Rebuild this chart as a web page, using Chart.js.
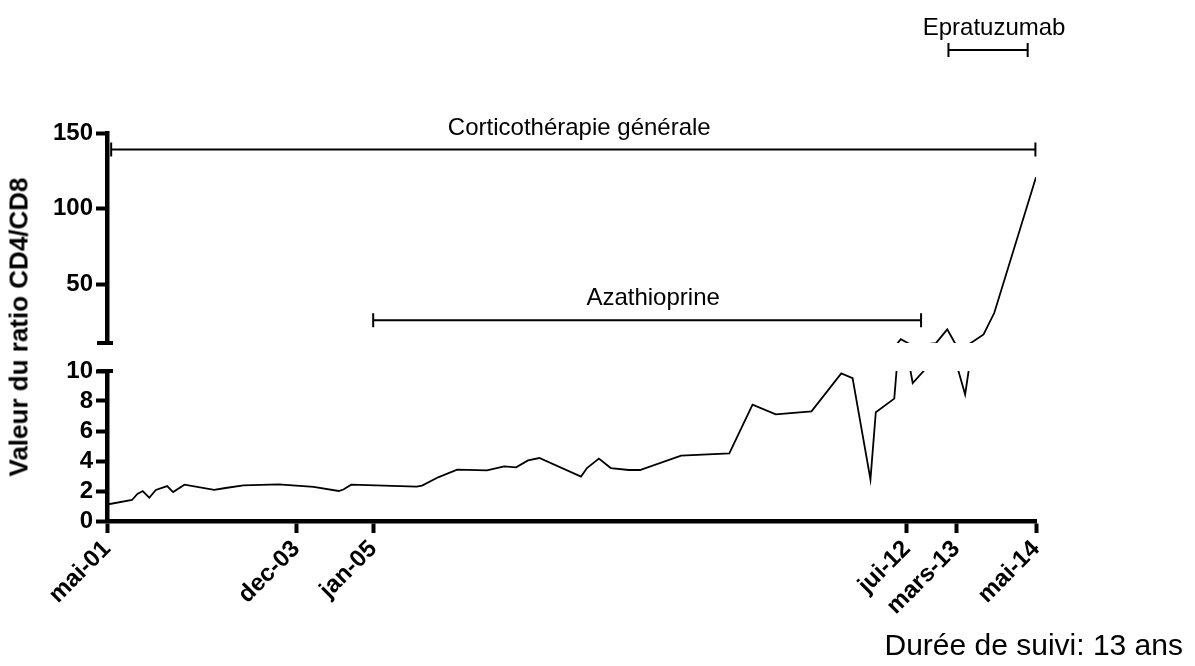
<!DOCTYPE html>
<html>
<head>
<meta charset="utf-8">
<script src="https://cdn.jsdelivr.net/npm/chart.js@4.4.1/dist/chart.umd.min.js"></script>
<style>
  body { margin: 0; background: #fff; width: 1195px; height: 666px; overflow: hidden; position: relative;
         font-family: "Liberation Sans", Arial, sans-serif; }
  canvas { position: absolute; left: 0; }
  #top { top: 0; }
  #bottom { top: 340px; }
  #ytitle { position: absolute; left: 19px; top: 327px; transform: translate(-50%, -50%) rotate(-90deg);
            font-weight: bold; font-size: 26px; white-space: nowrap; }
  #duree { position: absolute; right: 12px; top: 628px; font-size: 30px; white-space: nowrap; }
</style>
</head>
<body>
<canvas id="top" width="1195" height="365" style="width:1195px;height:365px"></canvas>
<canvas id="bottom" width="1195" height="326" style="width:1195px;height:326px"></canvas>
<div id="ytitle">Valeur du ratio CD4/CD8</div>
<div id="duree">Durée de suivi: 13 ans</div>

<script>
// months since mai-01
const months = [0, 4.2, 5.1, 6.0, 7.1, 8.2, 10.1, 11.1, 13.0, 18.0, 19.9, 22.9, 28.8, 34.7, 38.9, 39.7,
  41.0, 52.0, 52.9, 55.7, 58.8, 63.8, 66.7, 68.7, 70.7, 72.6, 79.6, 80.6, 82.6, 84.6, 87.6, 89.5,
  96.4, 104.5, 108.4, 112.3, 118.3, 123.3, 125.2, 128.2, 129.1, 132.2, 133.3, 135.3, 139.2, 141.1,
  142.4, 144.1, 147.2, 149.0, 156];
// CD4/CD8 ratio
const ratio = [1.1, 1.4, 1.8, 2.0, 1.55, 2.07, 2.33, 1.93, 2.42, 2.07, 2.2, 2.38, 2.44, 2.27, 2.0, 2.1,
  2.42, 2.29, 2.36, 2.93, 3.42, 3.38, 3.64, 3.58, 4.04, 4.2, 2.96, 3.53, 4.16, 3.53, 3.4, 3.4,
  4.36, 4.51, 7.76, 7.11, 7.31, 9.84, 9.53, 2.78, 7.25, 8.16, 13.5, 9.2, 10.9, 20,
  10.8, 8.44, 16.7, 31.0, 120.7];

const tickMonths = [0, 31.8, 44.7, 134.3, 142.6, 156];
const tickLabels = ["mai-01", "dec-03", "jan-05", "jui-12", "mars-13", "mai-14"];
const upperTicks = [50, 100, 150];
const lowerTicks = [0, 2, 4, 6, 8, 10];

const treatNames = ["Corticothérapie générale", "Azathioprine", "Epratuzumab"];
const treatStart = [0.7, 44.7, 141.3];
const treatEnd = [155.9, 136.7, 154.6];
const treatLevel = [139, 26, 205];

Chart.defaults.font.family = '"Liberation Sans", Arial, sans-serif';
Chart.defaults.color = "#000";

const points = months.map((m, i) => ({ x: m, y: ratio[i] }));

const treatments = {
  id: "treatments",
  afterDatasetsDraw(chart) {
    const { ctx, scales: { x, y } } = chart;
    ctx.save();
    ctx.strokeStyle = "#000";
    ctx.fillStyle = "#000";
    ctx.lineWidth = 2;
    ctx.font = '24px "Liberation Sans", Arial, sans-serif';
    ctx.textAlign = "center";
    treatNames.forEach((name, i) => {
      const x1 = x.getPixelForValue(treatStart[i]);
      const x2 = x.getPixelForValue(treatEnd[i]);
      const yy = y.getPixelForValue(treatLevel[i]);
      ctx.beginPath();
      ctx.moveTo(x1, yy); ctx.lineTo(x2, yy);
      ctx.moveTo(x1, yy - 7); ctx.lineTo(x1, yy + 7);
      ctx.moveTo(x2, yy - 7); ctx.lineTo(x2, yy + 7);
      ctx.stroke();
      ctx.fillText(name, (x1 + x2) / 2 + 6, yy - 15);
    });
    ctx.restore();
  }
};

// little caps where the y axis is broken
const breakCap = {
  id: "breakCap",
  afterDraw(chart, args, opts) {
    const s = chart.scales.y;
    const yy = opts.edge === "bottom" ? s.bottom : s.top;
    const ctx = chart.ctx;
    ctx.save();
    ctx.strokeStyle = "#000";
    ctx.lineWidth = 4;
    ctx.beginPath();
    ctx.moveTo(chart.chartArea.left - 10, yy);
    ctx.lineTo(chart.chartArea.left + 6, yy);
    ctx.stroke();
    ctx.restore();
  }
};

const yCommon = {
  afterFit: s => { s.width = 107; },
  border: { color: "#000", width: 4.5 },
  grid: { drawOnChartArea: false, tickLength: 11, tickWidth: 4, tickColor: "#000" },
};

new Chart(document.getElementById("top"), {
  type: "line",
  data: { datasets: [{ data: points, borderColor: "#000", borderWidth: 1.8, pointRadius: 0, tension: 0 }] },
  options: {
    responsive: false, animation: false, events: [],
    layout: { padding: { top: 133, bottom: 22, left: 0, right: 159 } },
    plugins: { legend: { display: false }, tooltip: { enabled: false }, breakCap: { edge: "bottom" } },
    scales: {
      x: { type: "linear", min: 0, max: 156, display: false },
      y: {
        ...yCommon,
        min: 11, max: 150,
        afterBuildTicks: s => { s.ticks = upperTicks.map(v => ({ value: v })); },
        ticks: { autoSkip: false, font: { size: 24, weight: "bold" }, padding: 3 }
      }
    }
  },
  plugins: [treatments, breakCap]
});

new Chart(document.getElementById("bottom"), {
  type: "line",
  data: { datasets: [{ data: points, borderColor: "#000", borderWidth: 1.8, pointRadius: 0, tension: 0 }] },
  options: {
    responsive: false, animation: false, events: [],
    layout: { padding: { top: 31, bottom: 0, left: 0, right: 159 } },
    plugins: { legend: { display: false }, tooltip: { enabled: false }, breakCap: { edge: "top" } },
    scales: {
      x: {
        type: "linear", min: 0, max: 156,
        afterFit: s => { s.height = 145; },
        afterBuildTicks: s => { s.ticks = tickMonths.map(v => ({ value: v })); },
        border: { color: "#000", width: 4.5 },
        grid: { drawOnChartArea: false, tickLength: 12, tickWidth: 4, tickColor: "#000" },
        ticks: {
          autoSkip: false, minRotation: 45, maxRotation: 45, padding: 2,
          font: { size: 24, weight: "bold" },
          callback: (v, i) => tickLabels[i]
        }
      },
      y: {
        ...yCommon,
        min: 0, max: 10,
        afterBuildTicks: s => { s.ticks = lowerTicks.map(v => ({ value: v })); },
        ticks: { autoSkip: false, font: { size: 24, weight: "bold" }, padding: 3 }
      }
    }
  },
  plugins: [breakCap]
});
</script>
</body>
</html>
